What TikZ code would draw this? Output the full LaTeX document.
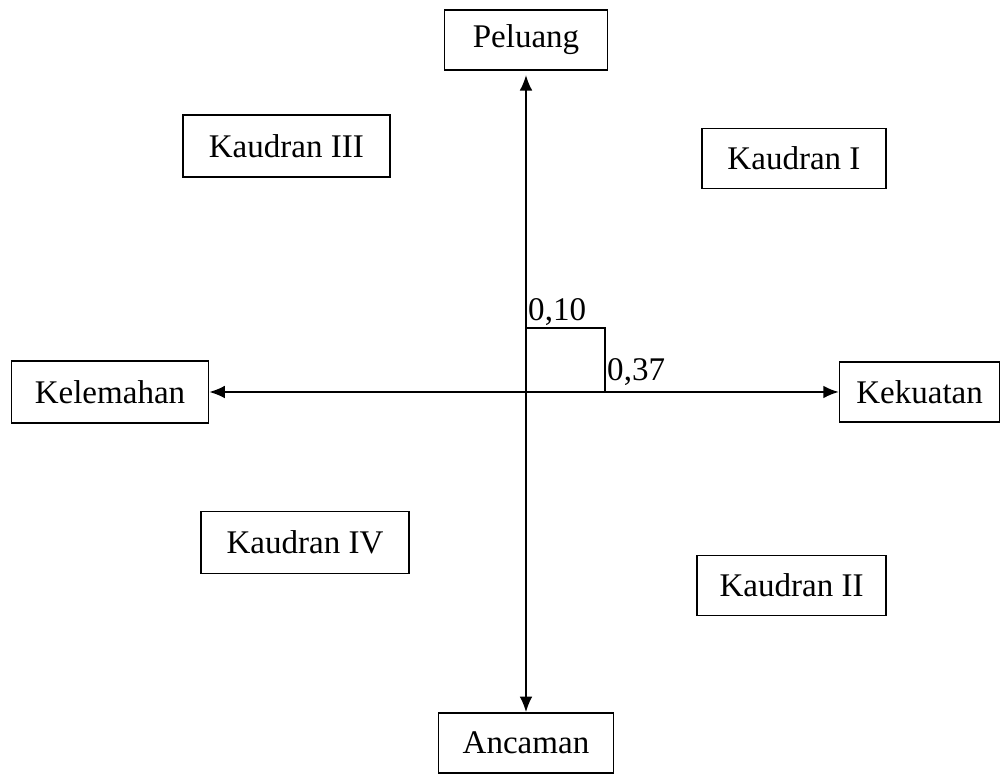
\documentclass[tikz,border=0pt]{standalone}
\usepackage{fontspec}
\setmainfont{Liberation Serif}
\usetikzlibrary{arrows.meta}
\tikzset{kotak/.style={draw, line width=1.2pt, minimum height=1.5cm, inner sep=0pt, font=\fontsize{23.5}{27}\selectfont},
	panah/.style={{Latex[length=11pt,width=9pt]}-{Latex[length=11pt,width=9pt]}}}
\begin{document}
\begin{tikzpicture}[line width=1.2pt]
			\useasboundingbox (-13.15,-9.55) rectangle (11.925,9.8);
			\coordinate (o) at (0,0);
			\node[kotak, minimum width=4.075cm] (peluang) at (0,8.8) {Peluang};
			\node[kotak, minimum width=4.375cm] (ancaman) at (0,-8.775) {Ancaman};
			\node[kotak, minimum width=4.925cm, minimum height=1.55cm] (kelemahan) at (-10.4,0) {Kelemahan};
			\node[kotak, minimum width=4.0cm] (kekuatan) at (9.84,0) {Kekuatan};
			\node[kotak, minimum width=5.175cm, minimum height=1.55cm] (k3) at (-5.99,6.15) {Kaudran III};
			\node[kotak, minimum width=4.6cm] (k1) at (6.7,5.84) {Kaudran I};
			\node[kotak, minimum width=5.2cm, minimum height=1.55cm] (k4) at (-5.525,-3.76) {Kaudran IV};
			\node[kotak, minimum width=4.725cm] (k2) at (6.64,-4.84) {Kaudran II};
			\path[panah]
			(kelemahan) edge (kekuatan)
			(peluang) edge[shorten <=3pt] (ancaman);
			\draw (o) |- (1.975,1.6) -- (1.975,0);
			\node[anchor=south west, inner sep=1pt, font=\fontsize{23.5}{27}\selectfont] (a10) at (0,1.6) {0,10};
			\node[anchor=south west, inner sep=1pt, font=\fontsize{23.5}{27}\selectfont] (a37) at (1.975,0.1) {0,37};
		\end{tikzpicture}
\end{document}
